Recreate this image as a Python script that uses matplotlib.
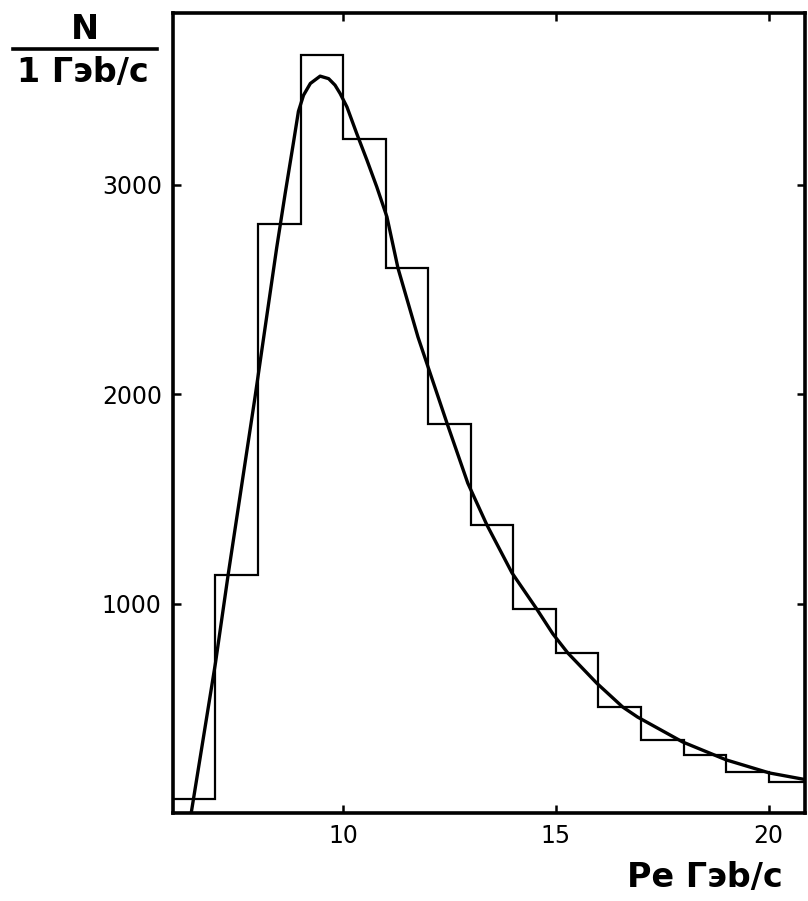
import matplotlib.pyplot as plt
from matplotlib.lines import Line2D

# histogram: 1 GeV/c bins
bin_edges = [6, 7, 8, 9, 10, 11, 12, 13, 14, 15, 16, 17, 18, 19, 20, 21]
counts = [65, 1135, 2810, 3620, 3220, 2600, 1857, 1375, 974, 764, 506, 348, 277, 196, 148]

# smooth curve
curve_p = [6.43, 7.0, 7.3, 7.93, 8.44, 8.64, 8.83, 8.95, 9.07, 9.23, 9.46, 9.66,
           9.81, 9.93, 10.09, 10.32, 10.56, 10.79, 11.03, 11.29, 11.76, 12.44,
           12.93, 13.38, 13.97, 14.55, 14.93, 15.28, 15.96, 16.57, 16.92, 17.98,
           19.01, 20.02, 20.9]
curve_n = [0, 716, 1140, 1986, 2700, 2960, 3197, 3350, 3427, 3483, 3518, 3506,
           3475, 3435, 3371, 3244, 3117, 2990, 2846, 2601, 2272, 1862,
           1575, 1375, 1146, 974, 855, 764, 620, 506, 458, 339,
           253, 191, 158]

xticks = [10, 15, 20]
yticks = [1000, 2000, 3000]

fig = plt.figure(figsize=(8.08, 9.01), dpi=100)
ax = fig.add_axes([0.214, 0.0977, 0.782, 0.888])

ax.stairs(counts, bin_edges, color='black', lw=1.6)
ax.plot(curve_p, curve_n, color='black', lw=2.4, solid_joinstyle='round')

ax.set_xlim(6.0, 20.85)
ax.set_ylim(0, 3820)
ax.set_xticks(xticks)
ax.set_yticks(yticks)
ax.tick_params(direction='in', top=True, right=True, length=6, width=1.8,
               labelsize=17, pad=8)
for s in ax.spines.values():
    s.set_linewidth(2.6)

# y label as a fraction N / 1 Гэb/c
fig.text(0.105, 0.967, 'N', fontsize=24, fontweight='bold', ha='center', va='center')
fig.add_artist(Line2D([0.016, 0.194], [0.9456, 0.9456], color='black', lw=2.6,
                      transform=fig.transFigure))
fig.text(0.102, 0.920, '1 Гэb/c', fontsize=24, fontweight='bold', ha='center', va='center')

fig.text(0.872, 0.0266, 'Pe Гэb/c', fontsize=24, fontweight='bold', ha='center', va='center')

fig.savefig('out.png', dpi=100)
